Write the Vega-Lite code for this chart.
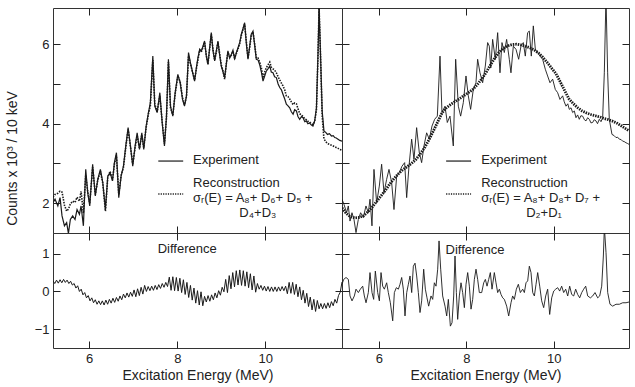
{
"$schema": "https://vega.github.io/schema/vega-lite/v6.json",
"padding": {"left": 4, "top": 7, "right": 5, "bottom": 4},
"background": "white",
"config": {
 "font": "Liberation Sans",
 "view": {"stroke": "#333", "strokeWidth": 1},
 "axis": {"domain": false, "grid": false, "ticks": true, "tickColor": "#222", "tickSize": -7, "labelFont": "Liberation Sans", "labelFontSize": 13, "labelColor": "#222", "labelPadding": 11, "titleFont": "Liberation Sans", "titleFontSize": 14, "titleColor": "#222", "titleFontWeight": "normal"},
 "text": {"font": "Liberation Sans", "fontSize": 13, "color": "#222"}
},
"datasets": {
 "tl": [
{"E":5.18,"exp":2.01,"rec":2.15},{"E":5.226,"exp":2.10,"rec":2.22},{"E":5.29,"exp":1.93,"rec":2.25},{"E":5.34,"exp":2.14,"rec":2.30},{"E":5.385,"exp":1.68,"rec":2.28},{"E":5.44,"exp":1.43,"rec":1.95},{"E":5.49,"exp":1.51,"rec":1.80},{"E":5.53,"exp":1.24,"rec":1.85},{"E":5.574,"exp":1.59,"rec":1.98},{"E":5.627,"exp":1.68,"rec":2.05},{"E":5.68,"exp":1.59,"rec":2.02},{"E":5.726,"exp":1.84,"rec":2.15},{"E":5.78,"exp":1.72,"rec":2.05},{"E":5.817,"exp":1.93,"rec":2.30},{"E":5.87,"exp":1.43,"rec":1.75},{"E":5.923,"exp":2.85,"rec":2.70},{"E":5.968,"exp":2.26,"rec":2.30},{"E":6.014,"exp":1.93,"rec":2.00},{"E":6.08,"exp":2.98,"rec":2.90},{"E":6.14,"exp":2.18,"rec":2.22},{"E":6.196,"exp":2.60,"rec":2.58},{"E":6.256,"exp":2.85,"rec":2.80},{"E":6.31,"exp":2.52,"rec":2.50},{"E":6.37,"exp":1.84,"rec":1.80},{"E":6.423,"exp":2.68,"rec":2.65},{"E":6.476,"exp":2.77,"rec":2.80},{"E":6.53,"exp":2.56,"rec":2.58},{"E":6.574,"exp":3.02,"rec":2.98},{"E":6.62,"exp":3.27,"rec":3.20},{"E":6.673,"exp":2.14,"rec":2.22},{"E":6.726,"exp":2.68,"rec":2.70},{"E":6.779,"exp":2.93,"rec":2.90},{"E":6.832,"exp":3.44,"rec":3.40},{"E":6.885,"exp":3.90,"rec":3.85},{"E":6.938,"exp":3.44,"rec":3.42},{"E":6.99,"exp":2.93,"rec":2.98},{"E":7.044,"exp":3.44,"rec":3.40},{"E":7.09,"exp":3.77,"rec":3.70},{"E":7.143,"exp":3.35,"rec":3.38},{"E":7.196,"exp":3.77,"rec":3.72},{"E":7.24,"exp":3.35,"rec":3.40},{"E":7.294,"exp":3.94,"rec":3.90},{"E":7.347,"exp":4.28,"rec":4.25},{"E":7.39,"exp":4.53,"rec":4.45},{"E":7.446,"exp":5.70,"rec":5.60},{"E":7.49,"exp":4.44,"rec":4.50},{"E":7.544,"exp":4.28,"rec":4.30},{"E":7.605,"exp":4.78,"rec":4.70},{"E":7.658,"exp":4.03,"rec":4.05},{"E":7.71,"exp":3.44,"rec":3.50},{"E":7.756,"exp":4.19,"rec":4.15},{"E":7.80,"exp":5.62,"rec":5.55},{"E":7.847,"exp":4.44,"rec":4.40},{"E":7.90,"exp":4.19,"rec":4.22},{"E":7.953,"exp":4.78,"rec":4.75},{"E":8.014,"exp":5.24,"rec":5.20},{"E":8.067,"exp":5.03,"rec":5.05},{"E":8.12,"exp":4.61,"rec":4.65},{"E":8.165,"exp":4.44,"rec":4.48},{"E":8.21,"exp":4.70,"rec":4.68},{"E":8.256,"exp":5.79,"rec":5.70},{"E":8.30,"exp":5.53,"rec":5.50},{"E":8.347,"exp":5.30,"rec":5.30},{"E":8.394,"exp":5.07,"rec":5.10},{"E":8.44,"exp":5.45,"rec":5.42},{"E":8.47,"exp":5.66,"rec":5.60},{"E":8.51,"exp":5.87,"rec":5.85},{"E":8.545,"exp":5.83,"rec":5.80},{"E":8.585,"exp":5.95,"rec":5.92},{"E":8.62,"exp":6.08,"rec":6.05},{"E":8.66,"exp":5.70,"rec":5.72},{"E":8.697,"exp":5.49,"rec":5.50},{"E":8.735,"exp":5.90,"rec":5.88},{"E":8.773,"exp":6.29,"rec":6.25},{"E":8.81,"exp":5.85,"rec":5.88},{"E":8.85,"exp":5.58,"rec":5.60},{"E":8.89,"exp":5.85,"rec":5.82},{"E":8.924,"exp":6.08,"rec":6.05},{"E":8.96,"exp":5.75,"rec":5.78},{"E":9.0,"exp":5.45,"rec":5.48},{"E":9.04,"exp":5.30,"rec":5.32},{"E":9.076,"exp":5.16,"rec":5.12},{"E":9.115,"exp":5.50,"rec":5.52},{"E":9.15,"exp":5.83,"rec":5.80},{"E":9.19,"exp":5.65,"rec":5.68},{"E":9.227,"exp":5.74,"rec":5.72},{"E":9.265,"exp":5.85,"rec":5.82},{"E":9.303,"exp":5.62,"rec":5.65},{"E":9.34,"exp":5.78,"rec":5.76},{"E":9.38,"exp":5.91,"rec":5.88},{"E":9.42,"exp":6.05,"rec":6.02},{"E":9.455,"exp":6.25,"rec":6.22},{"E":9.495,"exp":6.40,"rec":6.38},{"E":9.53,"exp":6.54,"rec":6.50},{"E":9.57,"exp":6.00,"rec":6.05},{"E":9.606,"exp":5.62,"rec":5.65},{"E":9.645,"exp":5.95,"rec":5.92},{"E":9.68,"exp":6.25,"rec":6.22},{"E":9.72,"exp":6.33,"rec":6.30},{"E":9.76,"exp":5.95,"rec":5.98},{"E":9.795,"exp":5.62,"rec":5.65},{"E":9.835,"exp":5.60,"rec":5.65},{"E":9.87,"exp":5.49,"rec":5.55},{"E":9.91,"exp":5.30,"rec":5.40},{"E":9.947,"exp":5.07,"rec":5.15},{"E":9.985,"exp":5.20,"rec":5.30},{"E":10.02,"exp":5.32,"rec":5.40},{"E":10.06,"exp":5.38,"rec":5.48},{"E":10.10,"exp":5.45,"rec":5.55},{"E":10.135,"exp":5.30,"rec":5.42},{"E":10.174,"exp":5.28,"rec":5.38},{"E":10.21,"exp":5.18,"rec":5.35},{"E":10.25,"exp":5.16,"rec":5.28},{"E":10.29,"exp":5.00,"rec":5.18},{"E":10.326,"exp":4.91,"rec":5.10},{"E":10.365,"exp":4.85,"rec":5.02},{"E":10.40,"exp":4.74,"rec":4.95},{"E":10.44,"exp":4.62,"rec":4.85},{"E":10.477,"exp":4.49,"rec":4.70},{"E":10.515,"exp":4.45,"rec":4.68},{"E":10.553,"exp":4.40,"rec":4.62},{"E":10.59,"exp":4.30,"rec":4.55},{"E":10.63,"exp":4.24,"rec":4.48},{"E":10.665,"exp":4.35,"rec":4.52},{"E":10.705,"exp":4.32,"rec":4.50},{"E":10.74,"exp":4.18,"rec":4.38},{"E":10.78,"exp":4.11,"rec":4.25},{"E":10.82,"exp":4.18,"rec":4.22},{"E":10.856,"exp":4.15,"rec":4.18},{"E":10.895,"exp":4.05,"rec":4.12},{"E":10.93,"exp":4.07,"rec":4.10},{"E":10.965,"exp":4.00,"rec":4.06},{"E":11.0,"exp":4.02,"rec":4.05},{"E":11.04,"exp":3.97,"rec":4.00},{"E":11.08,"exp":3.94,"rec":3.98},{"E":11.12,"exp":4.07,"rec":4.05},{"E":11.16,"exp":4.40,"rec":4.35},{"E":11.197,"exp":5.83,"rec":5.80},{"E":11.22,"exp":6.92,"rec":6.92},{"E":11.25,"exp":5.83,"rec":5.80},{"E":11.29,"exp":4.32,"rec":4.20},{"E":11.33,"exp":3.82,"rec":3.62},{"E":11.37,"exp":3.78,"rec":3.55},{"E":11.41,"exp":3.73,"rec":3.50},{"E":11.455,"exp":3.75,"rec":3.48},{"E":11.5,"exp":3.69,"rec":3.46},{"E":11.54,"exp":3.70,"rec":3.44},{"E":11.576,"exp":3.65,"rec":3.42},{"E":11.61,"exp":3.64,"rec":3.40},{"E":11.65,"exp":3.61,"rec":3.38},{"E":11.69,"exp":3.58,"rec":3.35},{"E":11.74,"exp":3.56,"rec":3.33}
 ],
 "tr_exp": [
{"E":5.16,"v":2.10},{"E":5.205,"v":1.97},{"E":5.266,"v":1.76},{"E":5.304,"v":1.93},{"E":5.343,"v":1.55},{"E":5.388,"v":1.76},{"E":5.434,"v":1.59},{"E":5.48,"v":1.26},{"E":5.533,"v":1.59},{"E":5.586,"v":1.76},{"E":5.647,"v":1.64},{"E":5.708,"v":1.93},{"E":5.762,"v":1.76},{"E":5.80,"v":2.10},{"E":5.845,"v":1.43},{"E":5.891,"v":2.85},{"E":5.952,"v":2.01},{"E":6.013,"v":2.43},{"E":6.066,"v":2.98},{"E":6.12,"v":2.26},{"E":6.18,"v":2.60},{"E":6.234,"v":2.85},{"E":6.295,"v":2.52},{"E":6.348,"v":1.84},{"E":6.41,"v":2.68},{"E":6.47,"v":2.77},{"E":6.531,"v":2.93},{"E":6.592,"v":3.02},{"E":6.638,"v":2.14},{"E":6.691,"v":2.93},{"E":6.752,"v":3.61},{"E":6.805,"v":3.10},{"E":6.866,"v":3.90},{"E":6.927,"v":3.27},{"E":6.98,"v":3.02},{"E":7.034,"v":3.44},{"E":7.095,"v":3.77},{"E":7.156,"v":3.61},{"E":7.217,"v":3.94},{"E":7.278,"v":4.11},{"E":7.339,"v":4.19},{"E":7.40,"v":5.70},{"E":7.445,"v":4.28},{"E":7.514,"v":4.44},{"E":7.567,"v":4.03},{"E":7.628,"v":4.19},{"E":7.704,"v":3.44},{"E":7.758,"v":5.62},{"E":7.819,"v":4.44},{"E":7.872,"v":4.19},{"E":7.933,"v":4.53},{"E":7.994,"v":5.20},{"E":8.047,"v":4.70},{"E":8.10,"v":4.36},{"E":8.161,"v":4.86},{"E":8.222,"v":5.03},{"E":8.26,"v":5.62},{"E":8.314,"v":5.28},{"E":8.375,"v":5.03},{"E":8.436,"v":5.45},{"E":8.489,"v":6.04},{"E":8.527,"v":5.95},{"E":8.56,"v":5.40},{"E":8.603,"v":6.12},{"E":8.664,"v":5.62},{"E":8.718,"v":6.29},{"E":8.771,"v":5.28},{"E":8.817,"v":6.04},{"E":8.87,"v":5.79},{"E":8.923,"v":6.12},{"E":8.984,"v":5.62},{"E":9.022,"v":5.28},{"E":9.076,"v":5.95},{"E":9.137,"v":5.87},{"E":9.198,"v":5.62},{"E":9.251,"v":5.95},{"E":9.304,"v":6.04},{"E":9.35,"v":5.70},{"E":9.403,"v":6.29},{"E":9.441,"v":6.33},{"E":9.487,"v":5.70},{"E":9.533,"v":6.46},{"E":9.579,"v":5.87},{"E":9.632,"v":5.79},{"E":9.685,"v":5.70},{"E":9.746,"v":5.62},{"E":9.807,"v":5.37},{"E":9.86,"v":5.20},{"E":9.914,"v":5.03},{"E":9.975,"v":5.12},{"E":10.036,"v":4.86},{"E":10.089,"v":4.78},{"E":10.142,"v":4.61},{"E":10.203,"v":4.70},{"E":10.24,"v":4.55},{"E":10.28,"v":4.44},{"E":10.32,"v":4.50},{"E":10.356,"v":4.36},{"E":10.395,"v":4.40},{"E":10.432,"v":4.28},{"E":10.47,"v":4.32},{"E":10.508,"v":4.15},{"E":10.546,"v":4.22},{"E":10.584,"v":4.11},{"E":10.62,"v":4.20},{"E":10.66,"v":4.19},{"E":10.70,"v":4.10},{"E":10.737,"v":4.07},{"E":10.775,"v":4.15},{"E":10.813,"v":4.11},{"E":10.85,"v":4.02},{"E":10.889,"v":4.03},{"E":10.925,"v":4.10},{"E":10.965,"v":4.07},{"E":11.0,"v":4.00},{"E":11.041,"v":4.11},{"E":11.08,"v":4.05},{"E":11.118,"v":4.15},{"E":11.156,"v":5.28},{"E":11.194,"v":7.2},{"E":11.232,"v":5.28},{"E":11.27,"v":4.11},{"E":11.331,"v":3.73},{"E":11.38,"v":3.70},{"E":11.423,"v":3.65},{"E":11.46,"v":3.66},{"E":11.499,"v":3.61},{"E":11.54,"v":3.60},{"E":11.575,"v":3.56},{"E":11.61,"v":3.55},{"E":11.651,"v":3.52},{"E":11.69,"v":3.50},{"E":11.72,"v":3.48}
 ],
 "tr_rec": [
{"E":5.16,"v":1.88},{"E":5.25,"v":1.75},{"E":5.35,"v":1.66},{"E":5.45,"v":1.63},{"E":5.55,"v":1.64},{"E":5.65,"v":1.68},{"E":5.75,"v":1.78},{"E":5.85,"v":1.90},{"E":5.95,"v":2.04},{"E":6.05,"v":2.18},{"E":6.15,"v":2.32},{"E":6.25,"v":2.48},{"E":6.35,"v":2.62},{"E":6.45,"v":2.74},{"E":6.55,"v":2.84},{"E":6.65,"v":2.92},{"E":6.75,"v":3.00},{"E":6.85,"v":3.10},{"E":6.95,"v":3.24},{"E":7.05,"v":3.40},{"E":7.15,"v":3.60},{"E":7.25,"v":3.82},{"E":7.35,"v":4.05},{"E":7.45,"v":4.28},{"E":7.55,"v":4.40},{"E":7.65,"v":4.49},{"E":7.75,"v":4.56},{"E":7.85,"v":4.63},{"E":7.95,"v":4.71},{"E":8.05,"v":4.78},{"E":8.15,"v":4.86},{"E":8.25,"v":4.98},{"E":8.35,"v":5.12},{"E":8.45,"v":5.28},{"E":8.55,"v":5.47},{"E":8.65,"v":5.65},{"E":8.75,"v":5.80},{"E":8.85,"v":5.90},{"E":8.95,"v":5.96},{"E":9.05,"v":5.99},{"E":9.15,"v":6.00},{"E":9.25,"v":5.98},{"E":9.35,"v":5.95},{"E":9.45,"v":5.91},{"E":9.55,"v":5.86},{"E":9.65,"v":5.78},{"E":9.75,"v":5.67},{"E":9.85,"v":5.54},{"E":9.95,"v":5.40},{"E":10.05,"v":5.26},{"E":10.15,"v":5.05},{"E":10.25,"v":4.83},{"E":10.35,"v":4.62},{"E":10.45,"v":4.50},{"E":10.55,"v":4.40},{"E":10.65,"v":4.32},{"E":10.75,"v":4.27},{"E":10.85,"v":4.23},{"E":10.95,"v":4.20},{"E":11.05,"v":4.17},{"E":11.15,"v":4.13},{"E":11.25,"v":4.10},{"E":11.35,"v":4.06},{"E":11.45,"v":4.01},{"E":11.55,"v":3.94},{"E":11.65,"v":3.87},{"E":11.72,"v":3.82}
 ],
 "bl": [
{"E":5.18,"d":0.28},{"E":5.22,"d":0.21},{"E":5.26,"d":0.30},{"E":5.30,"d":0.22},{"E":5.34,"d":0.31},{"E":5.38,"d":0.23},{"E":5.42,"d":0.32},{"E":5.46,"d":0.24},{"E":5.50,"d":0.30},{"E":5.54,"d":0.21},{"E":5.58,"d":0.27},{"E":5.62,"d":0.17},{"E":5.66,"d":0.21},{"E":5.70,"d":0.09},{"E":5.74,"d":0.15},{"E":5.78,"d":0.00},{"E":5.82,"d":0.06},{"E":5.86,"d":-0.09},{"E":5.90,"d":-0.03},{"E":5.94,"d":-0.17},{"E":5.98,"d":-0.11},{"E":6.02,"d":-0.25},{"E":6.06,"d":-0.17},{"E":6.10,"d":-0.30},{"E":6.14,"d":-0.22},{"E":6.18,"d":-0.34},{"E":6.22,"d":-0.25},{"E":6.26,"d":-0.35},{"E":6.30,"d":-0.25},{"E":6.34,"d":-0.36},{"E":6.38,"d":-0.23},{"E":6.42,"d":-0.34},{"E":6.46,"d":-0.21},{"E":6.50,"d":-0.31},{"E":6.54,"d":-0.18},{"E":6.58,"d":-0.29},{"E":6.62,"d":-0.16},{"E":6.66,"d":-0.26},{"E":6.70,"d":-0.12},{"E":6.74,"d":-0.22},{"E":6.78,"d":-0.07},{"E":6.82,"d":-0.17},{"E":6.86,"d":-0.04},{"E":6.90,"d":-0.15},{"E":6.94,"d":-0.02},{"E":6.98,"d":-0.13},{"E":7.02,"d":0.04},{"E":7.06,"d":-0.14},{"E":7.10,"d":0.07},{"E":7.14,"d":-0.11},{"E":7.18,"d":0.11},{"E":7.22,"d":-0.07},{"E":7.26,"d":0.16},{"E":7.30,"d":0.00},{"E":7.34,"d":0.13},{"E":7.38,"d":0.02},{"E":7.42,"d":0.14},{"E":7.46,"d":0.03},{"E":7.50,"d":0.16},{"E":7.54,"d":0.05},{"E":7.58,"d":0.18},{"E":7.62,"d":0.08},{"E":7.66,"d":0.21},{"E":7.70,"d":0.11},{"E":7.74,"d":0.24},{"E":7.78,"d":0.13},{"E":7.82,"d":0.38},{"E":7.86,"d":0.03},{"E":7.90,"d":0.39},{"E":7.94,"d":0.02},{"E":7.98,"d":0.37},{"E":8.02,"d":0.01},{"E":8.06,"d":0.35},{"E":8.10,"d":-0.03},{"E":8.14,"d":0.31},{"E":8.18,"d":-0.08},{"E":8.22,"d":0.24},{"E":8.26,"d":-0.16},{"E":8.30,"d":0.16},{"E":8.34,"d":-0.23},{"E":8.38,"d":0.09},{"E":8.42,"d":-0.31},{"E":8.46,"d":0.02},{"E":8.50,"d":-0.36},{"E":8.54,"d":-0.01},{"E":8.58,"d":-0.38},{"E":8.62,"d":-0.13},{"E":8.66,"d":-0.28},{"E":8.70,"d":-0.11},{"E":8.74,"d":-0.26},{"E":8.78,"d":-0.09},{"E":8.82,"d":-0.22},{"E":8.86,"d":-0.04},{"E":8.90,"d":-0.17},{"E":8.94,"d":0.02},{"E":8.98,"d":-0.10},{"E":9.02,"d":0.11},{"E":9.06,"d":-0.01},{"E":9.10,"d":0.32},{"E":9.14,"d":-0.03},{"E":9.18,"d":0.42},{"E":9.22,"d":0.07},{"E":9.26,"d":0.50},{"E":9.30,"d":0.12},{"E":9.34,"d":0.55},{"E":9.38,"d":0.17},{"E":9.42,"d":0.57},{"E":9.46,"d":0.16},{"E":9.50,"d":0.55},{"E":9.54,"d":0.14},{"E":9.58,"d":0.52},{"E":9.62,"d":0.10},{"E":9.66,"d":0.47},{"E":9.70,"d":0.04},{"E":9.74,"d":0.41},{"E":9.78,"d":-0.02},{"E":9.82,"d":0.21},{"E":9.86,"d":0.06},{"E":9.90,"d":0.16},{"E":9.94,"d":0.03},{"E":9.98,"d":0.14},{"E":10.02,"d":0.01},{"E":10.06,"d":0.13},{"E":10.10,"d":0.00},{"E":10.14,"d":0.12},{"E":10.18,"d":0.00},{"E":10.22,"d":0.12},{"E":10.26,"d":0.00},{"E":10.30,"d":0.12},{"E":10.34,"d":0.01},{"E":10.38,"d":0.13},{"E":10.42,"d":0.02},{"E":10.46,"d":0.14},{"E":10.50,"d":-0.06},{"E":10.54,"d":0.24},{"E":10.58,"d":-0.05},{"E":10.62,"d":0.24},{"E":10.66,"d":-0.08},{"E":10.70,"d":0.19},{"E":10.74,"d":-0.14},{"E":10.78,"d":0.12},{"E":10.82,"d":-0.22},{"E":10.86,"d":0.03},{"E":10.90,"d":-0.31},{"E":10.94,"d":-0.05},{"E":10.98,"d":-0.40},{"E":11.02,"d":-0.15},{"E":11.06,"d":-0.49},{"E":11.10,"d":-0.21},{"E":11.14,"d":-0.53},{"E":11.18,"d":-0.24},{"E":11.22,"d":-0.46},{"E":11.26,"d":-0.32},{"E":11.30,"d":-0.46},{"E":11.34,"d":-0.32},{"E":11.38,"d":-0.45},{"E":11.42,"d":-0.30},{"E":11.46,"d":-0.43},{"E":11.50,"d":-0.27},{"E":11.54,"d":-0.38},{"E":11.58,"d":-0.21},{"E":11.62,"d":-0.31},{"E":11.66,"d":-0.11},{"E":11.70,"d":-0.02},{"E":11.74,"d":0.25}
 ],
 "br": [
{"E":5.16,"d":0.19},{"E":5.199,"d":0.32},{"E":5.252,"d":0.37},{"E":5.305,"d":0.32},{"E":5.343,"d":-0.12},{"E":5.389,"d":-0.25},{"E":5.442,"d":-0.12},{"E":5.48,"d":0.06},{"E":5.534,"d":-0.03},{"E":5.579,"d":0.06},{"E":5.633,"d":0.14},{"E":5.671,"d":-0.12},{"E":5.709,"d":-0.30},{"E":5.762,"d":-0.03},{"E":5.80,"d":0.50},{"E":5.846,"d":-0.03},{"E":5.884,"d":-0.21},{"E":5.922,"d":0.54},{"E":5.976,"d":-0.03},{"E":6.014,"d":-0.25},{"E":6.052,"d":0.50},{"E":6.09,"d":0.14},{"E":6.128,"d":0.06},{"E":6.181,"d":0.23},{"E":6.219,"d":-0.03},{"E":6.265,"d":-0.30},{"E":6.319,"d":-0.78},{"E":6.357,"d":-0.03},{"E":6.402,"d":0.10},{"E":6.448,"d":0.06},{"E":6.486,"d":0.19},{"E":6.524,"d":0.37},{"E":6.562,"d":0.06},{"E":6.60,"d":-0.65},{"E":6.639,"d":-0.03},{"E":6.677,"d":0.19},{"E":6.715,"d":0.41},{"E":6.753,"d":-0.03},{"E":6.791,"d":0.67},{"E":6.829,"d":0.75},{"E":6.867,"d":0.41},{"E":6.905,"d":-0.03},{"E":6.943,"d":-0.56},{"E":6.981,"d":-0.25},{"E":7.027,"d":0.59},{"E":7.065,"d":0.06},{"E":7.103,"d":-0.17},{"E":7.141,"d":-0.39},{"E":7.195,"d":-0.12},{"E":7.233,"d":-0.21},{"E":7.271,"d":0.23},{"E":7.309,"d":0.14},{"E":7.347,"d":0.59},{"E":7.378,"d":1.34},{"E":7.416,"d":0.59},{"E":7.461,"d":-0.12},{"E":7.515,"d":-0.39},{"E":7.553,"d":-0.65},{"E":7.591,"d":-0.21},{"E":7.637,"d":-0.92},{"E":7.675,"d":-0.83},{"E":7.713,"d":-0.12},{"E":7.743,"d":0.94},{"E":7.774,"d":-0.03},{"E":7.804,"d":-0.74},{"E":7.842,"d":-0.12},{"E":7.88,"d":0.23},{"E":7.918,"d":-0.03},{"E":7.957,"d":-0.43},{"E":7.995,"d":0.19},{"E":8.033,"d":0.50},{"E":8.071,"d":0.14},{"E":8.109,"d":-0.47},{"E":8.147,"d":-0.21},{"E":8.185,"d":0.32},{"E":8.223,"d":0.59},{"E":8.261,"d":0.32},{"E":8.299,"d":-0.03},{"E":8.353,"d":-0.03},{"E":8.399,"d":0.23},{"E":8.437,"d":0.32},{"E":8.475,"d":0.14},{"E":8.513,"d":0.32},{"E":8.551,"d":0.50},{"E":8.589,"d":0.06},{"E":8.642,"d":0.50},{"E":8.68,"d":0.23},{"E":8.718,"d":-0.03},{"E":8.757,"d":0.06},{"E":8.795,"d":-0.08},{"E":8.833,"d":-0.17},{"E":8.871,"d":-0.21},{"E":8.924,"d":-0.39},{"E":8.97,"d":-0.65},{"E":9.023,"d":-0.30},{"E":9.061,"d":-0.12},{"E":9.099,"d":-0.21},{"E":9.145,"d":0.06},{"E":9.191,"d":0.19},{"E":9.237,"d":-0.03},{"E":9.29,"d":0.06},{"E":9.328,"d":-0.03},{"E":9.366,"d":0.23},{"E":9.404,"d":0.28},{"E":9.442,"d":0.67},{"E":9.48,"d":0.50},{"E":9.519,"d":-0.03},{"E":9.557,"d":-0.12},{"E":9.595,"d":0.19},{"E":9.633,"d":0.50},{"E":9.679,"d":0.14},{"E":9.724,"d":-0.25},{"E":9.77,"d":-0.43},{"E":9.816,"d":-0.12},{"E":9.861,"d":0.06},{"E":9.907,"d":-0.61},{"E":9.953,"d":-0.17},{"E":9.999,"d":0.01},{"E":10.044,"d":0.06},{"E":10.09,"d":0.10},{"E":10.136,"d":0.01},{"E":10.181,"d":0.14},{"E":10.227,"d":-0.03},{"E":10.273,"d":0.06},{"E":10.319,"d":-0.12},{"E":10.364,"d":0.14},{"E":10.41,"d":-0.08},{"E":10.456,"d":-0.12},{"E":10.501,"d":0.06},{"E":10.547,"d":-0.08},{"E":10.593,"d":-0.17},{"E":10.639,"d":-0.03},{"E":10.684,"d":0.06},{"E":10.73,"d":0.14},{"E":10.776,"d":-0.12},{"E":10.837,"d":-0.17},{"E":10.89,"d":-0.12},{"E":10.943,"d":-0.03},{"E":11.004,"d":-0.17},{"E":11.05,"d":-0.12},{"E":11.096,"d":0.14},{"E":11.134,"d":0.94},{"E":11.157,"d":1.7},{"E":11.195,"d":1.03},{"E":11.233,"d":-0.03},{"E":11.286,"d":-0.34},{"E":11.347,"d":-0.39},{"E":11.423,"d":-0.34},{"E":11.499,"d":-0.34},{"E":11.576,"d":-0.30},{"E":11.652,"d":-0.30},{"E":11.72,"d":-0.28}
 ]
},
"bounds": "flush",
"spacing": 0,
"columns": 2,
"concat": [
 {
  "width": 289, "height": 225,
  "layer": [
   {"data": {"name": "tl"}, "mark": {"type": "line", "color": "#1a1a1a", "strokeWidth": 1.2, "clip": true},
    "encoding": {
     "x": {"field": "E", "type": "quantitative", "scale": {"domain": [5.18, 11.74], "nice": false, "zero": false}, "axis": {"orient": "bottom", "values": [6, 8, 10], "labels": false, "title": null}},
     "y": {"field": "exp", "type": "quantitative", "scale": {"domain": [1.25, 6.91], "nice": false, "zero": false}, "axis": {"orient": "left", "values": [2, 3, 4, 5, 6], "labelExpr": "datum.value % 2 == 0 ? datum.label : ''", "title": "Counts x 10³ / 10 keV", "titleX": -41, "titleY": 150, "titleAngle": 270, "titleAlign": "center", "titleBaseline": "middle", "titleFontSize": 14}}
    }},
   {"data": {"name": "tl"}, "mark": {"type": "line", "color": "#1a1a1a", "strokeWidth": 1.6, "strokeDash": [1.5, 1.2], "clip": true},
    "encoding": {
     "x": {"field": "E", "type": "quantitative", "scale": {"domain": [5.18, 11.74], "nice": false, "zero": false}, "axis": {"orient": "top", "values": [6, 8, 10], "labels": false, "title": null}},
     "y": {"field": "rec", "type": "quantitative", "scale": {"domain": [1.25, 6.91], "nice": false, "zero": false}, "axis": {"orient": "right", "values": [2, 3, 4, 5, 6], "labels": false, "title": null}}
    }},
   {"data": {"values": [{"x1": 7.57, "x2": 8.135, "y": 3.06}]}, "mark": {"type": "rule", "color": "#1a1a1a", "strokeWidth": 1.2},
    "encoding": {
     "x": {"field": "x1", "type": "quantitative", "scale": {"domain": [5.18, 11.74], "nice": false, "zero": false}, "axis": null},
     "x2": {"field": "x2"},
     "y": {"field": "y", "type": "quantitative", "scale": {"domain": [1.25, 6.91], "nice": false, "zero": false}, "axis": null}
    }},
   {"data": {"values": [{"x1": 7.57, "x2": 8.135, "y": 2.23}]}, "mark": {"type": "rule", "color": "#1a1a1a", "strokeWidth": 1.5, "strokeDash": [1.2, 1.2]},
    "encoding": {
     "x": {"field": "x1", "type": "quantitative", "scale": {"domain": [5.18, 11.74], "nice": false, "zero": false}, "axis": null},
     "x2": {"field": "x2"},
     "y": {"field": "y", "type": "quantitative", "scale": {"domain": [1.25, 6.91], "nice": false, "zero": false}, "axis": null}
    }},
   {"data": {"values": [{"x": 8.36, "y": 3.08, "t": "Experiment"}, {"x": 8.36, "y": 2.51, "t": "Reconstruction"}, {"x": 8.36, "y": 2.13, "t": "σᵣ(E) = A₈+ D₆+ D₅ +"}, {"x": 9.41, "y": 1.76, "t": "D₄+D₃"}]},
    "mark": {"type": "text", "align": "left", "baseline": "middle", "fontSize": 13},
    "encoding": {
     "x": {"field": "x", "type": "quantitative", "scale": {"domain": [5.18, 11.74], "nice": false, "zero": false}, "axis": null},
     "y": {"field": "y", "type": "quantitative", "scale": {"domain": [1.25, 6.91], "nice": false, "zero": false}, "axis": null},
     "text": {"field": "t"}
    }}
  ],
  "resolve": {"axis": {"x": "independent", "y": "independent"}}
 },
 {
  "width": 287, "height": 225,
  "layer": [
   {"data": {"name": "tr_rec"}, "mark": {"type": "line", "color": "#1a1a1a", "strokeWidth": 2.8, "strokeDash": [1.5, 1], "clip": true},
    "encoding": {
     "x": {"field": "E", "type": "quantitative", "scale": {"domain": [5.16, 11.72], "nice": false, "zero": false}, "axis": {"orient": "bottom", "values": [6, 8, 10], "labels": false, "title": null}},
     "y": {"field": "v", "type": "quantitative", "scale": {"domain": [1.25, 6.91], "nice": false, "zero": false}, "axis": {"orient": "left", "values": [2, 3, 4, 5, 6], "labels": false, "title": null}}
    }},
   {"data": {"name": "tr_exp"}, "mark": {"type": "line", "color": "#1a1a1a", "strokeWidth": 0.9, "clip": true},
    "encoding": {
     "x": {"field": "E", "type": "quantitative", "scale": {"domain": [5.16, 11.72], "nice": false, "zero": false}, "axis": {"orient": "top", "values": [6, 8, 10], "labels": false, "title": null}},
     "y": {"field": "v", "type": "quantitative", "scale": {"domain": [1.25, 6.91], "nice": false, "zero": false}, "axis": {"orient": "right", "values": [2, 3, 4, 5, 6], "labels": false, "title": null}}
    }},
   {"data": {"values": [{"x1": 7.54, "x2": 8.11, "y": 3.06}]}, "mark": {"type": "rule", "color": "#1a1a1a", "strokeWidth": 1.2},
    "encoding": {
     "x": {"field": "x1", "type": "quantitative", "scale": {"domain": [5.16, 11.72], "nice": false, "zero": false}, "axis": null},
     "x2": {"field": "x2"},
     "y": {"field": "y", "type": "quantitative", "scale": {"domain": [1.25, 6.91], "nice": false, "zero": false}, "axis": null}
    }},
   {"data": {"values": [{"x1": 7.54, "x2": 8.11, "y": 2.23}]}, "mark": {"type": "rule", "color": "#1a1a1a", "strokeWidth": 1.5, "strokeDash": [1.2, 1.2]},
    "encoding": {
     "x": {"field": "x1", "type": "quantitative", "scale": {"domain": [5.16, 11.72], "nice": false, "zero": false}, "axis": null},
     "x2": {"field": "x2"},
     "y": {"field": "y", "type": "quantitative", "scale": {"domain": [1.25, 6.91], "nice": false, "zero": false}, "axis": null}
    }},
   {"data": {"values": [{"x": 8.34, "y": 3.08, "t": "Experiment"}, {"x": 8.34, "y": 2.51, "t": "Reconstruction"}, {"x": 8.34, "y": 2.13, "t": "σᵣ(E) = A₈+ D₈+ D₇ +"}, {"x": 9.37, "y": 1.76, "t": "D₂+D₁"}]},
    "mark": {"type": "text", "align": "left", "baseline": "middle", "fontSize": 13},
    "encoding": {
     "x": {"field": "x", "type": "quantitative", "scale": {"domain": [5.16, 11.72], "nice": false, "zero": false}, "axis": null},
     "y": {"field": "y", "type": "quantitative", "scale": {"domain": [1.25, 6.91], "nice": false, "zero": false}, "axis": null},
     "text": {"field": "t"}
    }}
  ],
  "resolve": {"axis": {"x": "independent", "y": "independent"}}
 },
 {
  "width": 289, "height": 115,
  "layer": [
   {"mark": {"type": "rule", "color": "#999", "strokeWidth": 0.8, "strokeDash": [1, 2]},
    "encoding": {"y": {"datum": 0, "type": "quantitative", "scale": {"domain": [-1.5, 1.55], "nice": false, "zero": false}, "axis": null}}},
   {"data": {"name": "bl"}, "mark": {"type": "line", "color": "#1a1a1a", "strokeWidth": 1.0, "clip": true},
    "encoding": {
     "x": {"field": "E", "type": "quantitative", "scale": {"domain": [5.18, 11.74], "nice": false, "zero": false}, "axis": {"orient": "bottom", "values": [6, 8, 10], "title": "Excitation Energy (MeV)", "titlePadding": 3}},
     "y": {"field": "d", "type": "quantitative", "scale": {"domain": [-1.5, 1.55], "nice": false, "zero": false}, "axis": {"orient": "left", "values": [-1, 0, 1], "title": null}}
    }},
   {"data": {"name": "bl"}, "mark": {"type": "line", "opacity": 0, "clip": true},
    "encoding": {
     "x": {"field": "E", "type": "quantitative", "scale": {"domain": [5.18, 11.74], "nice": false, "zero": false}, "axis": {"orient": "top", "values": [6, 8, 10], "labels": false, "title": null}},
     "y": {"field": "d", "type": "quantitative", "scale": {"domain": [-1.5, 1.55], "nice": false, "zero": false}, "axis": {"orient": "right", "values": [-1, 0, 1], "labels": false, "title": null}}
    }},
   {"data": {"values": [{"x": 8.225, "y": 1.13, "t": "Difference"}]},
    "mark": {"type": "text", "align": "center", "baseline": "middle", "fontSize": 13},
    "encoding": {
     "x": {"field": "x", "type": "quantitative", "scale": {"domain": [5.18, 11.74], "nice": false, "zero": false}, "axis": null},
     "y": {"field": "y", "type": "quantitative", "scale": {"domain": [-1.5, 1.55], "nice": false, "zero": false}, "axis": null},
     "text": {"field": "t"}
    }}
  ],
  "resolve": {"axis": {"x": "independent", "y": "independent"}}
 },
 {
  "width": 287, "height": 115,
  "layer": [
   {"mark": {"type": "rule", "color": "#999", "strokeWidth": 0.8, "strokeDash": [1, 2]},
    "encoding": {"y": {"datum": 0, "type": "quantitative", "scale": {"domain": [-1.5, 1.55], "nice": false, "zero": false}, "axis": null}}},
   {"data": {"name": "br"}, "mark": {"type": "line", "color": "#1a1a1a", "strokeWidth": 0.9, "clip": true},
    "encoding": {
     "x": {"field": "E", "type": "quantitative", "scale": {"domain": [5.16, 11.72], "nice": false, "zero": false}, "axis": {"orient": "bottom", "values": [6, 8, 10], "title": "Excitation Energy (MeV)", "titlePadding": 3}},
     "y": {"field": "d", "type": "quantitative", "scale": {"domain": [-1.5, 1.55], "nice": false, "zero": false}, "axis": {"orient": "left", "values": [-1, 0, 1], "labels": false, "title": null}}
    }},
   {"data": {"name": "br"}, "mark": {"type": "line", "opacity": 0, "clip": true},
    "encoding": {
     "x": {"field": "E", "type": "quantitative", "scale": {"domain": [5.16, 11.72], "nice": false, "zero": false}, "axis": {"orient": "top", "values": [6, 8, 10], "labels": false, "title": null}},
     "y": {"field": "d", "type": "quantitative", "scale": {"domain": [-1.5, 1.55], "nice": false, "zero": false}, "axis": {"orient": "right", "values": [-1, 0, 1], "labels": false, "title": null}}
    }},
   {"data": {"values": [{"x": 8.2, "y": 1.1, "t": "Difference"}]},
    "mark": {"type": "text", "align": "center", "baseline": "middle", "fontSize": 13},
    "encoding": {
     "x": {"field": "x", "type": "quantitative", "scale": {"domain": [5.16, 11.72], "nice": false, "zero": false}, "axis": null},
     "y": {"field": "y", "type": "quantitative", "scale": {"domain": [-1.5, 1.55], "nice": false, "zero": false}, "axis": null},
     "text": {"field": "t"}
    }}
  ],
  "resolve": {"axis": {"x": "independent", "y": "independent"}}
 }
]
}
